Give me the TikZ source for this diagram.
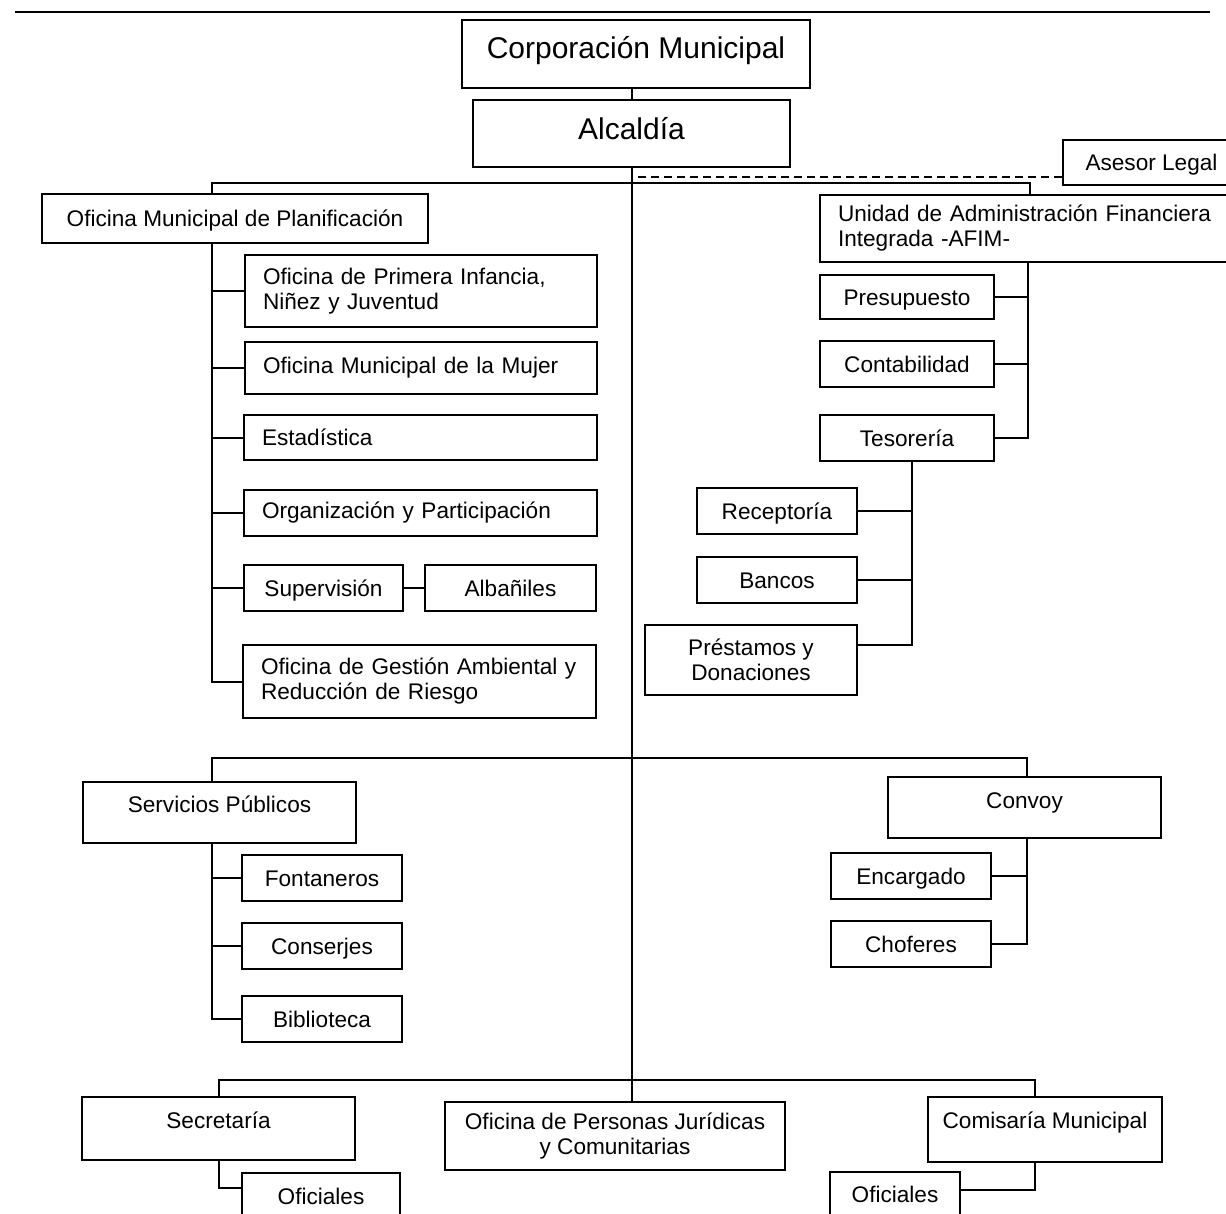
\documentclass[tikz,border=0pt]{standalone}
\usepackage{fontspec}
\setmainfont{Liberation Sans}
\begin{document}
\begin{tikzpicture}[x=0.5pt,y=-0.5pt,
  box/.style={draw, line width=1pt, inner sep=0pt, font=\fontsize{11.3}{12.5}\selectfont},
  one/.style={box, text height=8.2pt, text depth=#1},
  one/.default=0pt,
  two/.style={box, align=center},
  lft/.style={box, align=left, inner xsep=9pt, text width=#1},
  big/.style={box, font=\fontsize{15}{18}\selectfont, text height=11pt, text depth=#1},
  link/.style={line width=1pt}]
  \useasboundingbox (0,0) rectangle (1226,1214);
  \clip (0,0) rectangle (1226,1214);
  \draw[line width=1.2pt] (15,12) -- (1210,12);

  \node[big=6.3pt, minimum width=174pt, minimum height=34pt] (corp) at (636,54) {Corporación Municipal};
  \node[big=5.3pt, minimum width=158.5pt, minimum height=33.5pt] (alc) at (631.5,133.5) {Alcaldía};
  \node[one, minimum width=88.5pt, minimum height=22.5pt] (asesor) at (1151.5,162.5) {Asesor Legal};

  \node[one, minimum width=193pt, minimum height=24.5pt] (omp) at (235,218.5) {Oficina Municipal de Planificación};
  \node[lft=158pt, minimum height=36pt] (infancia) at (421,291) {Oficina de Primera Infancia,\\Niñez y Juventud};
  \node[lft=158pt, minimum height=26pt] (mujer) at (421,368) {Oficina Municipal de la Mujer};
  \node[lft=158.5pt, minimum height=22.5pt] (estad) at (420.5,437.5) {Estadística};
  \node[lft=158.5pt, minimum height=23pt] (organiz) at (420.5,513) {Organización y Participación};
  \node[one, minimum width=79.5pt, minimum height=23pt] (superv) at (323.5,588) {Supervisión};
  \node[one, minimum width=85.5pt, minimum height=23pt] (albanil) at (510.5,588) {Albañiles};
  \node[lft=158.5pt, minimum height=36.5pt] (gestion) at (419.5,681.5) {Oficina de Gestión Ambiental y\\Reducción de Riesgo};

  \node[lft=192pt, minimum height=33.5pt] (uafi) at (1030,228.5) {Unidad de Administración Financiera\\Integrada -AFIM-};
  \node[one, minimum width=87pt, minimum height=22pt] (presup) at (907,297) {Presupuesto};
  \node[one, minimum width=87pt, minimum height=23pt] (contab) at (907,364) {Contabilidad};
  \node[one, minimum width=87pt, minimum height=23pt] (tesor) at (907,438) {Tesorería};
  \node[one, minimum width=80pt, minimum height=23pt] (recep) at (777,511) {Receptoría};
  \node[one, minimum width=80pt, minimum height=23pt] (bancos) at (777,580) {Bancos};
  \node[two, minimum width=106pt, minimum height=35pt] (prest) at (751,660) {Préstamos y\\Donaciones};

  \node[one=8.5pt, minimum width=136.5pt, minimum height=30.5pt] (serv) at (219.5,812.5) {Servicios Públicos};
  \node[one, minimum width=80pt, minimum height=23pt] (fonta) at (322,878) {Fontaneros};
  \node[one, minimum width=80pt, minimum height=23pt] (consj) at (322,946) {Conserjes};
  \node[one, minimum width=80pt, minimum height=23pt] (biblio) at (322,1019) {Biblioteca};
  \node[one=7.5pt, minimum width=136.5pt, minimum height=30.5pt] (convoy) at (1024.5,807.5) {Convoy};
  \node[one, minimum width=80pt, minimum height=23pt] (encarg) at (911,876) {Encargado};
  \node[one, minimum width=80pt, minimum height=23pt] (chofer) at (911,944) {Choferes};

  \node[one=8.5pt, minimum width=136.5pt, minimum height=31.5pt] (secre) at (218.5,1128.5) {Secretaría};
  \node[two, minimum width=170pt, minimum height=34pt] (personas) at (615,1136) {Oficina de Personas Jurídicas\\y Comunitarias};
  \node[one=9.5pt, minimum width=117pt, minimum height=32.5pt] (comis) at (1045,1129.5) {Comisaría Municipal};
  \node[one, minimum width=79pt, minimum height=23pt] (ofic1) at (321,1196) {Oficiales};
  \node[one, minimum width=65pt, minimum height=22pt] (ofic2) at (895,1194) {Oficiales};

  \coordinate (bar1) at (0,183);
  \coordinate (bar2) at (0,758);
  \coordinate (bar3) at (0,1080);
  \coordinate (xL) at (212,0);
  \coordinate (xR) at (1030,0);
  \coordinate (xU) at (1028,0);
  \coordinate (xT) at (912,0);
  \coordinate (xV) at (1027,0);
  \coordinate (xC) at (1035,0);

  \draw[link] (alc.north) -- (alc.north |- corp.south);
  \draw[link] (alc.south) -- (alc.south |- personas.north);
  \draw[link, dash pattern=on 4pt off 2.5pt] (asesor.south west) ++(0,-9) coordinate (dsh) -- (dsh -| alc.south);

  \draw[link] (xL |- omp.north) -- (xL |- bar1) -- (xR |- bar1) -- (xR |- uafi.north);
  \draw[link] (xL |- omp.south) |- (gestion.west);
  \foreach \b in {infancia,mujer,estad,organiz,superv}
    \draw[link] (\b.west) -- (\b.west -| xL);
  \draw[link] (superv) -- (albanil);

  \draw[link] (xU |- uafi.south) |- (tesor.east);
  \foreach \b in {presup,contab}
    \draw[link] (\b.east) -- (\b.east -| xU);
  \draw[link] (xT |- tesor.south) |- ([yshift=7.5pt]prest.east);
  \foreach \b in {recep,bancos}
    \draw[link] (\b.east) -- (\b.east -| xT);

  \draw[link] (xL |- serv.north) -- (xL |- bar2) -- (xV |- bar2) -- (xV |- convoy.north);
  \draw[link] (xL |- serv.south) |- (biblio.west);
  \foreach \b in {fonta,consj}
    \draw[link] (\b.west) -- (\b.west -| xL);
  \draw[link] (xV |- convoy.south) |- (chofer.east);
  \draw[link] (encarg.east) -- (encarg.east -| xV);

  \draw[link] (secre.north) -- (secre.north |- bar3) -- (xC |- bar3) -- (xC |- comis.north);
  \draw[link] (secre.south) |- ([yshift=4pt]ofic1.west);
  \draw[link] (xC |- comis.south) |- ([yshift=2pt]ofic2.east);
\end{tikzpicture}
\end{document}
